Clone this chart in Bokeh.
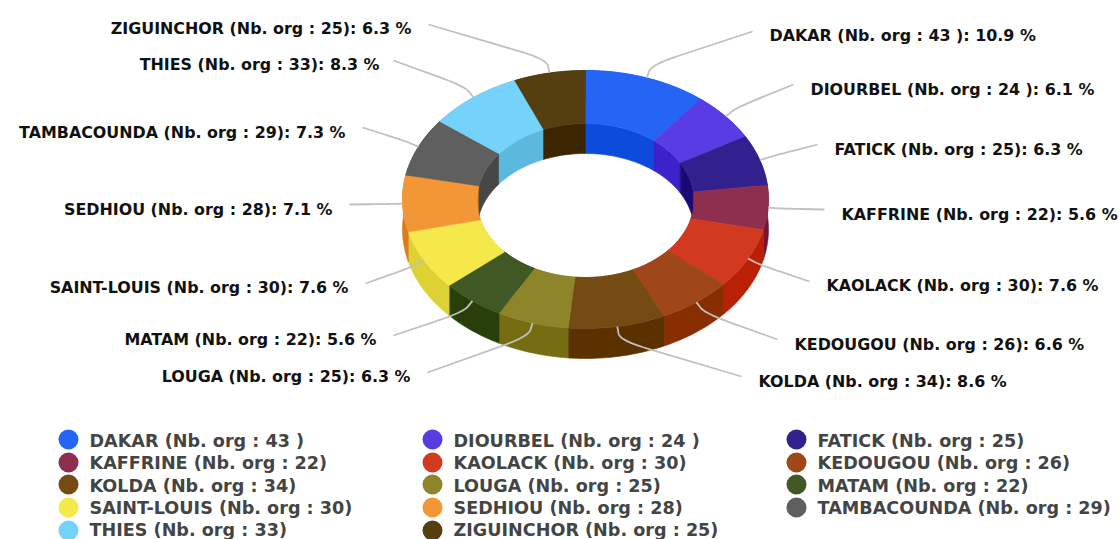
import numpy as np
from bokeh.plotting import figure
from bokeh.models import Range1d, ColumnDataSource
from bokeh.core.properties import value
from bokeh.embed import file_html
from bokeh.resources import INLINE

# ---- data ----
names = ["DAKAR", "DIOURBEL", "FATICK", "KAFFRINE", "KAOLACK", "KEDOUGOU", "KOLDA",
         "LOUGA", "MATAM", "SAINT-LOUIS", "SEDHIOU", "TAMBACOUNDA", "THIES", "ZIGUINCHOR"]
orgs = [43, 24, 25, 22, 30, 26, 34, 25, 22, 30, 28, 29, 33, 25]
count_suffix = [" ", " ", "", "", "", "", "", "", "", "", "", "", "", ""]
percents = ["10.9", "6.1", "6.3", "5.6", "7.6", "6.6", "8.6", "6.3", "5.6", "7.6", "7.1", "7.3", "8.3", "6.3"]

# ---- styles ----
top_colors = ["#2565F6", "#5A3CE4", "#33208F", "#8E2F50", "#D23A20", "#A0471A", "#744B13",
              "#8E852B", "#405823", "#F5E84B", "#F39736", "#5F5F5F", "#75D2FA", "#553E10"]
wall_colors = ["#0D4BDC", "#3C22CB", "#190A75", "#741536", "#B92006", "#882E00", "#5B3100",
               "#766C12", "#283F0A", "#DDD133", "#DA7E1D", "#474747", "#5BB8DF", "#3D2500"]

# ---- layout (page pixels) ----
CX, CY_OUT, CY_IN = 585.0, 199.0, 200.0
RX_OUT, RY_OUT, RX_IN, RY_IN = 183.0, 129.0, 108.5, 77.0
DEPTH = 30.0
KNEE = 14.0
label_x = [769, 810, 834, 841, 826, 794, 758, 410, 376, 348, 332, 345, 379, 411]
label_y = [35, 89, 149, 214, 285, 344, 381, 376, 339, 287, 209, 132, 64, 28]
line_end_x = [752, 793, 817, 824, 809, 777, 741, 427, 393, 365, 349, 362, 393, 428]
line_end_y = [31, 84, 144, 209, 281, 339, 376, 372, 335, 283, 204, 127, 60, 24]
legend_marker_x = [68, 432, 796]
legend_text_x = [89, 453, 817]
legend_marker_y = [439, 462, 484, 507, 530]
legend_text_y = [440, 462.5, 485, 507.5, 529]
FONT = "DejaVu Sans"

p = figure(width=1119, height=539, output_backend="svg", toolbar_location=None,
           x_range=Range1d(0, 1119), y_range=Range1d(539, 0), min_border=0,
           background_fill_color="white", border_fill_color="white", outline_line_color=None)
p.axis.visible = False
p.grid.visible = False

total = sum(orgs)
edges = np.cumsum([0] + orgs) / total * 2 * np.pi


def arc(a0, a1, rx, ry, cy):
    n = max(int((a1 - a0) / 0.02), 2)
    t = np.linspace(a0, a1, n)
    return CX + rx * np.sin(t), cy - ry * np.cos(t)


out_x, out_y, in_x, in_y, top_x, top_y = [], [], [], [], [], []
for a0, a1 in zip(edges[:-1], edges[1:]):
    ox, oy = arc(a0, a1, RX_OUT, RY_OUT, CY_OUT)
    ix, iy = arc(a0, a1, RX_IN, RY_IN, CY_IN)
    out_x.append(np.r_[ox, ox[::-1]].tolist())
    out_y.append(np.r_[oy, oy[::-1] + DEPTH].tolist())
    in_x.append(np.r_[ix, ix[::-1]].tolist())
    in_y.append(np.r_[iy, iy[::-1] + DEPTH].tolist())
    top_x.append(np.r_[ox, ix[::-1]].tolist())
    top_y.append(np.r_[oy, iy[::-1]].tolist())

for xs, ys, cols in [(out_x, out_y, wall_colors), (in_x, in_y, wall_colors), (top_x, top_y, top_colors)]:
    p.patches(xs, ys, fill_color=cols, line_color=cols, line_width=0.6)

# connectors
con_x, con_y = [], []
for i in range(len(orgs)):
    m = (edges[i] + edges[i + 1]) / 2
    ax, ay = CX + RX_OUT * np.sin(m), CY_OUT - RY_OUT * np.cos(m)
    kx, ky = CX + (RX_OUT + KNEE) * np.sin(m), CY_OUT - (RY_OUT + KNEE) * np.cos(m)
    ex, ey = line_end_x[i], line_end_y[i]
    L = max(np.hypot(ex - kx, ey - ky), 1)
    s0 = np.array([ax + (kx - ax) * 0.5, ay + (ky - ay) * 0.5])
    d = min(28, L * 0.45)
    s1 = np.array([kx + (ex - kx) * d / L, ky + (ey - ky) * d / L])
    k = np.array([kx, ky])
    t = np.linspace(0, 1, 16)[:, None]
    curve = (1 - t) ** 2 * s0 + 2 * t * (1 - t) * k + t ** 2 * s1
    con_x.append([ax] + curve[:, 0].tolist() + [ex])
    con_y.append([ay] + curve[:, 1].tolist() + [ey])
p.multi_line(con_x, con_y, line_color="#C0C0C0", line_width=1.8)

# data labels
full = [f"{n} (Nb. org : {o}{s})" for n, o, s in zip(names, orgs, count_suffix)]
labels = [f"{f}: {q} %" for f, q in zip(full, percents)]
right = [i >= 7 for i in range(len(labels))]
src = ColumnDataSource(dict(x=label_x, y=label_y, t=labels,
                            align=["right" if r else "left" for r in right]))
p.text("x", "y", text="t", source=src, text_align="align", text_baseline="middle",
       text_font=value(FONT), text_font_size="15.9px", text_font_style="bold", text_color="#111111")

# legend
lx, ly, ty, tx = [], [], [], []
for i in range(len(names)):
    r, c = divmod(i, 3)
    lx.append(legend_marker_x[c]); ly.append(legend_marker_y[r])
    tx.append(legend_text_x[c]); ty.append(legend_text_y[r])
p.scatter(lx, ly, marker="circle", size=20, fill_color=top_colors, line_color=None)
src2 = ColumnDataSource(dict(x=tx, y=ty, t=full))
p.text("x", "y", text="t", source=src2, text_baseline="middle", text_font=value(FONT),
       text_font_size="17.6px", text_font_style="bold", text_color="#444444")

open("out.html", "w").write(file_html(p, INLINE))
